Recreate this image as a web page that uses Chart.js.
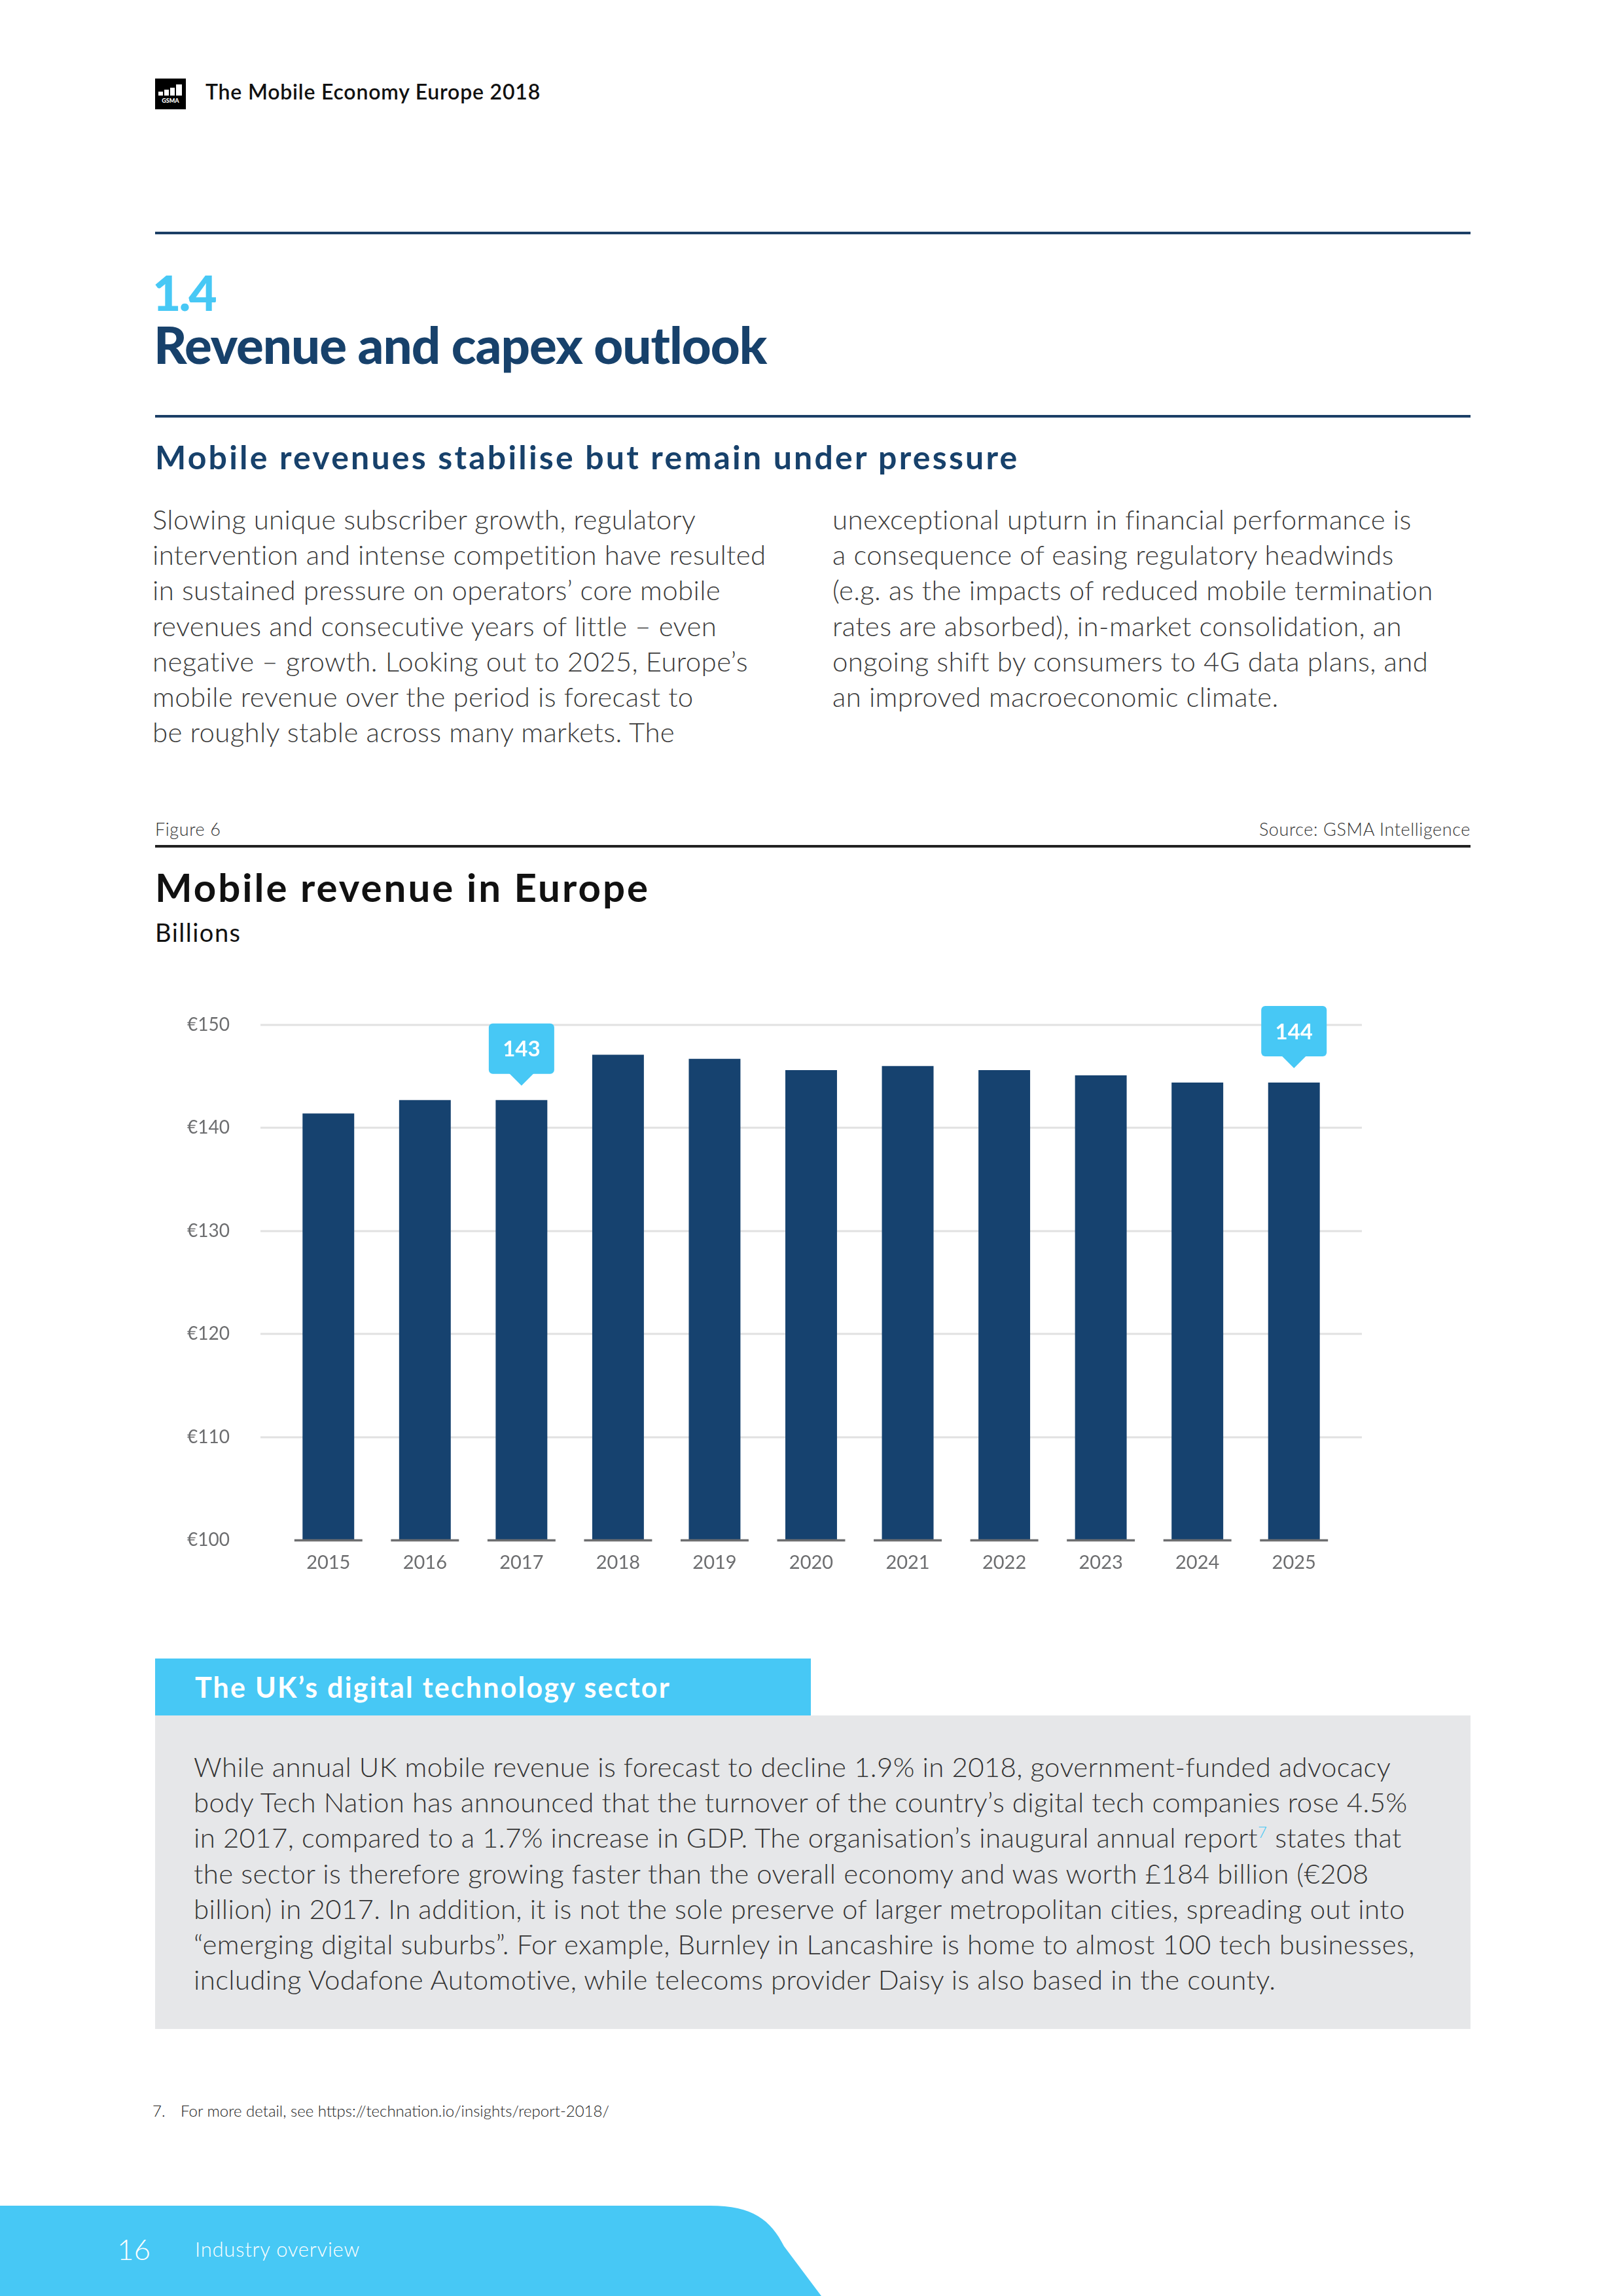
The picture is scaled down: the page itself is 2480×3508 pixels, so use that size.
<!DOCTYPE html>
<html>
<head>
<meta charset="utf-8">
<script src="https://cdn.jsdelivr.net/npm/chart.js@4.4.1/dist/chart.umd.min.js"></script>
<style>
  html, body { margin: 0; padding: 0; }
  body { width: 2480px; height: 3508px; position: relative; background: #fff; font-family: Lato, "Open Sans", sans-serif; overflow: hidden; }
  .abs { position: absolute; white-space: nowrap; line-height: 1.2; }
  .rule { position: absolute; left: 237px; width: 2010px; height: 4px; }
  .body-text { font-size: 42px; font-weight: 300; color: #3a3a3a; line-height: 54.2px; letter-spacing: 0.35px; }
  #logo { position: absolute; left: 237px; top: 120px; width: 47px; height: 47px; background: #000; }
  #logo .bar { position: absolute; background: #fff; bottom: 21px; width: 7px; }
  #logo .gs { position: absolute; left: 0; width: 47px; top: 28px; text-align: center; color: #fff; font: 900 9px Lato, sans-serif; letter-spacing: 0; }
  #chartBox { position: absolute; left: 230px; top: 1472px; width: 2030px; height: 975px; }
  #chartBox canvas { display: block; }
</style>
</head>
<body>

<div id="logo">
  <div class="bar" style="left:5px;height:6px"></div>
  <div class="bar" style="left:14px;height:9px"></div>
  <div class="bar" style="left:23px;height:12px"></div>
  <div class="bar" style="left:32px;height:17px;width:9px"></div>
  <div class="gs">GSMA</div>
</div>
<div class="abs" style="left:314px;top:121px;font-size:32px;font-weight:600;color:#111;letter-spacing:0.8px;">The Mobile Economy Europe 2018</div>

<div class="rule" style="top:354px;background:#1b3f66;"></div>

<div class="abs" style="left:233px;top:401px;font-size:75px;font-weight:900;color:#47c8f5;letter-spacing:-3px;">1.4</div>
<div class="abs" style="left:235px;top:480px;font-size:78px;font-weight:900;color:#17416b;letter-spacing:-1px;">Revenue and capex outlook</div>

<div class="rule" style="top:634px;background:#1b3f66;"></div>

<div class="abs" style="left:237px;top:668px;font-size:50px;font-weight:700;color:#17416b;letter-spacing:3.2px;">Mobile revenues stabilise but remain under pressure</div>

<div class="abs body-text" style="left:233px;top:766px;">
Slowing unique subscriber growth, regulatory<br>
intervention and intense competition have resulted<br>
in sustained pressure on operators’ core mobile<br>
revenues and consecutive years of little – even<br>
negative – growth. Looking out to 2025, Europe’s<br>
mobile revenue over the period is forecast to<br>
be roughly stable across many markets. The
</div>
<div class="abs body-text" style="left:1272px;top:766px;">
unexceptional upturn in financial performance is<br>
a consequence of easing regulatory headwinds<br>
(e.g. as the impacts of reduced mobile termination<br>
rates are absorbed), in-market consolidation, an<br>
ongoing shift by consumers to 4G data plans, and<br>
an improved macroeconomic climate.
</div>

<div class="abs" style="left:237px;top:1251px;font-size:27px;font-weight:300;color:#333;letter-spacing:0.6px;">Figure 6</div>
<div class="abs" style="right:233px;top:1251px;font-size:27px;font-weight:300;color:#333;letter-spacing:0.6px;">Source: GSMA Intelligence</div>
<div class="rule" style="top:1291px;background:#222;"></div>

<div class="abs" style="left:237px;top:1319px;font-size:60px;font-weight:700;color:#111;letter-spacing:3px;">Mobile revenue in Europe</div>
<div class="abs" style="left:237px;top:1402px;font-size:38px;font-weight:400;color:#111;letter-spacing:1.5px;">Billions</div>

<div id="chartBox"><canvas id="revenueChart" width="2030" height="975"></canvas></div>

<div style="position:absolute;left:237px;top:2534px;width:1002px;height:87px;background:#47c8f5;"></div>
<div class="abs" style="left:298px;top:2552px;font-size:43px;font-weight:700;color:#fff;letter-spacing:2.2px;">The UK’s digital technology sector</div>
<div style="position:absolute;left:237px;top:2621px;width:2010px;height:479px;background:#e6e7e9;"></div>
<div class="abs body-text" style="left:296px;top:2672px;color:#333;">
While annual UK mobile revenue is forecast to decline 1.9% in 2018, government-funded advocacy<br>
body Tech Nation has announced that the turnover of the country’s digital tech companies rose 4.5%<br>
in 2017, compared to a 1.7% increase in GDP. The organisation’s inaugural annual report<sup style="color:#47c8f5;font-size:24px;line-height:0;">7</sup> states that<br>
the sector is therefore growing faster than the overall economy and was worth £184 billion (€208<br>
billion) in 2017. In addition, it is not the sole preserve of larger metropolitan cities, spreading out into<br>
“emerging digital suburbs”. For example, Burnley in Lancashire is home to almost 100 tech businesses,<br>
including Vodafone Automotive, while telecoms provider Daisy is also based in the county.
</div>

<div class="abs" style="left:233px;top:3211px;font-size:24px;font-weight:300;color:#222;">7.</div>
<div class="abs" style="left:276px;top:3211px;font-size:24px;font-weight:300;color:#222;">For more detail, see https://technation.io/insights/report-2018/</div>

<svg style="position:absolute;left:0;top:3370px;" width="1270" height="138">
  <path d="M0,0 H1085 C1150,0 1178,22 1198,62 L1255,138 H0 Z" fill="#47c8f5"/>
</svg>
<div class="abs" style="left:179px;top:3410px;font-size:44px;font-weight:300;color:#fff;">16</div>
<div class="abs" style="left:298px;top:3418px;font-size:31px;font-weight:300;color:#fff;letter-spacing:0.8px;">Industry overview</div>

<script>
const years = ["2015", "2016", "2017", "2018", "2019", "2020", "2021", "2022", "2023", "2024", "2025"];
const revenue = [141.4, 142.7, 142.7, 147.1, 146.7, 145.6, 146.0, 145.6, 145.1, 144.4, 144.4];
const yTicks = [100, 110, 120, 130, 140, 150];
const calloutYears = ["2017", "2025"];

const navy = "#16426f";
const sky = "#47c8f5";
const grey = "#6d6e70";

// grid lines a bit wider than the bars, grey foot under each bar, and the two bubbles
const pageMarks = {
    id: "pageMarks",
    beforeDatasetsDraw(chart) {
        const {ctx, chartArea, scales} = chart;
        const y = scales.y;
        ctx.save();
        ctx.strokeStyle = "#e1e1e1";
        ctx.lineWidth = 3;
        yTicks.forEach(v => {
            if (v === yTicks[0]) return;
            const py = Math.round(y.getPixelForValue(v));
            ctx.beginPath();
            ctx.moveTo(chartArea.left - 30, py);
            ctx.lineTo(chartArea.right + 30, py);
            ctx.stroke();
        });
        ctx.restore();
    },
    afterDatasetsDraw(chart) {
        const {ctx, scales} = chart;
        const y = scales.y;
        const meta = chart.getDatasetMeta(0);
        const base = y.getPixelForValue(yTicks[0]);
        ctx.save();
        ctx.fillStyle = grey;
        meta.data.forEach(bar => {
            ctx.fillRect(bar.x - bar.width / 2 - 12.5, base - 1.5, bar.width + 25, 3.5);
        });

        calloutYears.forEach(yr => {
            const i = years.indexOf(yr);
            const bar = meta.data[i];
            const tip = bar.y - 22;
            const bottom = tip - 18;
            const top = bottom - 77;
            ctx.fillStyle = sky;
            ctx.beginPath();
            ctx.roundRect(bar.x - 50, top, 100, 77, 6);
            ctx.fill();
            ctx.beginPath();
            ctx.moveTo(bar.x - 19, bottom - 1);
            ctx.lineTo(bar.x + 19, bottom - 1);
            ctx.lineTo(bar.x, tip);
            ctx.closePath();
            ctx.fill();
            ctx.fillStyle = "#fff";
            ctx.font = "bold 33px Lato";
            ctx.textAlign = "center";
            ctx.textBaseline = "middle";
            ctx.fillText(String(Math.round(revenue[i])), bar.x, top + 40);
        });
        ctx.restore();
    }
};

// note: the y tick padding (77) also pads the plot top and bottom by 77 + half a label,
// so the canvas is sized around that instead of using layout padding
new Chart(document.getElementById("revenueChart"), {
    type: "bar",
    data: {
        labels: years,
        datasets: [{
            data: revenue,
            backgroundColor: navy,
            borderWidth: 0,
            categoryPercentage: 1,
            barPercentage: 0.535
        }]
    },
    options: {
        responsive: false,
        devicePixelRatio: 1,
        animation: false,
        layout: { padding: { top: 0, right: 209, bottom: 0, left: 0 } },
        plugins: { legend: { display: false }, tooltip: { enabled: false } },
        scales: {
            x: {
                grid: { display: false, drawTicks: false },
                border: { display: false },
                ticks: { color: grey, font: { family: "Lato", size: 29 }, padding: 17 },
                afterFit: s => { s.height = 80; }
            },
            y: {
                min: 100,
                max: 150,
                grid: { display: false, drawTicks: false },
                border: { display: false },
                ticks: {
                    stepSize: 10,
                    color: grey,
                    font: { family: "Lato", size: 28 },
                    padding: 77,
                    callback: v => "€" + v
                },
                afterFit: s => { s.width = 198; }
            }
        }
    },
    plugins: [pageMarks]
});
</script>
</body>
</html>
